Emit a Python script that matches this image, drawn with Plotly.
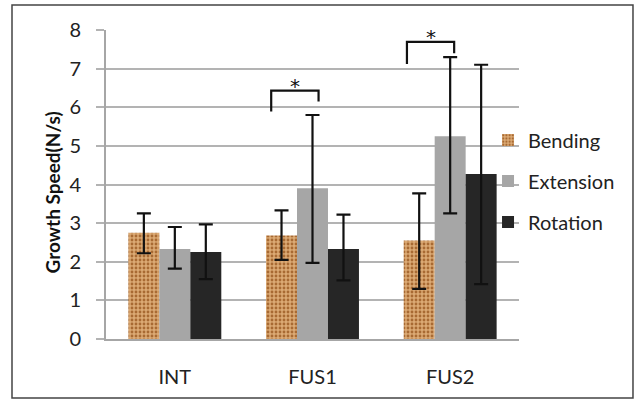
import plotly.graph_objects as go

categories = ["INT", "FUS1", "FUS2"]
series_names = ["Bending", "Extension", "Rotation"]
bending = [2.75, 2.68, 2.55]
extension = [2.33, 3.90, 5.25]
rotation = [2.25, 2.33, 4.27]
bending_hi = [3.25, 3.33, 3.77]
bending_lo = [2.22, 2.05, 1.30]
extension_hi = [2.90, 5.80, 7.30]
extension_lo = [1.82, 1.97, 3.25]
rotation_hi = [2.97, 3.22, 7.10]
rotation_lo = [1.55, 1.52, 1.42]
y_ticks = [0, 1, 2, 3, 4, 5, 6, 7, 8]

# significance brackets: category index, left/right offsets, top, left/right leg bottoms
bracket_cat = [1, 2]
bracket_left = [-0.30, -0.314]
bracket_right = [0.044, 0.029]
bracket_top = [6.43, 7.69]
bracket_left_bottom = [5.89, 7.12]
bracket_right_bottom = [6.15, 7.40]

FONT = "Lato"
fig = go.Figure()

series = [
    (bending, bending_hi, bending_lo),
    (extension, extension_hi, extension_lo),
    (rotation, rotation_hi, rotation_lo),
]
colors = ["#d6a26b", "#a6a6a6", "#262626"]
for i, (vals, hi, lo) in enumerate(series):
    marker = dict(color=colors[i], line=dict(width=0))
    if i == 0:
        marker["pattern"] = dict(shape=".", bgcolor="#dcaa74", fgcolor="#a86a33",
                                 size=4, solidity=0.4, fillmode="replace")
    fig.add_trace(go.Bar(
        x=categories, y=vals, name=series_names[i], marker=marker,
        legendgroup=series_names[i],
        error_y=dict(type="data", symmetric=False,
                     array=[h - v for h, v in zip(hi, vals)],
                     arrayminus=[v - l for v, l in zip(vals, lo)],
                     color="#111111", thickness=2.2, width=7),
    ))

for c, l, r, t, lb, rb in zip(bracket_cat, bracket_left, bracket_right,
                              bracket_top, bracket_left_bottom, bracket_right_bottom):
    xl, xr = c + l, c + r
    fig.add_shape(type="path", xref="x", yref="y",
                  path=f"M {xl},{lb} L {xl},{t} L {xr},{t} L {xr},{rb}",
                  line=dict(color="#111111", width=2.2))
    fig.add_annotation(x=(xl + xr) / 2, y=t, xref="x", yref="y", text="*",
                       showarrow=False, yanchor="bottom", yshift=-9,
                       font=dict(family="DejaVu Sans", size=20, color="#111111"))

# figure border
fig.add_shape(type="rect", xref="paper", yref="paper",
              x0=-0.2276, x1=1.276, y0=-0.191, y1=1.081,
              line=dict(color="#444444", width=1.5), layer="below")

fig.add_annotation(text="<b>Growth Speed(N/s)</b>", xref="paper", yref="paper",
                   x=-0.163, y=0.475, textangle=-90, showarrow=False,
                   font=dict(family=FONT, size=19, color="#111111"))

fig.update_layout(
    width=636, height=400,
    margin=dict(l=106, r=117, t=30, b=61, autoexpand=False),
    paper_bgcolor="white", plot_bgcolor="white",
    barmode="group", bargap=0.325, bargroupgap=0,
    font=dict(family=FONT, size=20, color="#222222"),
    showlegend=True,
    legend=dict(x=0.925, xanchor="left", y=0.511, yanchor="middle",
                traceorder="grouped", tracegroupgap=12,
                font=dict(family=FONT, size=20, color="#222222"),
                bgcolor="rgba(0,0,0,0)"),
    xaxis=dict(showline=True, linecolor="#a6a6a6", linewidth=2,
               ticks="", ticklabelstandoff=19, showgrid=False,
               tickfont=dict(family=FONT, size=20, color="#222222")),
    yaxis=dict(range=[0, 8], tickvals=y_ticks, showgrid=True, gridcolor="#b3b3b3",
               gridwidth=2, showline=True, linecolor="#a6a6a6", linewidth=2,
               ticks="outside", ticklen=8, tickcolor="#b3b3b3", tickwidth=2,
               ticklabelstandoff=11, zeroline=False,
               tickfont=dict(family=FONT, size=20, color="#222222")),
)

fig.write_html("out.html")
